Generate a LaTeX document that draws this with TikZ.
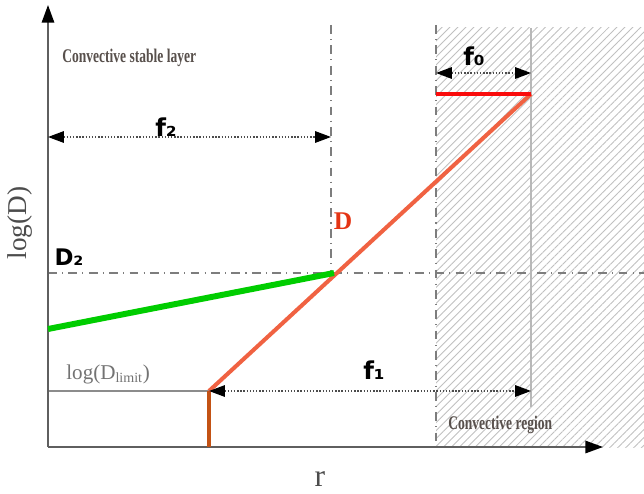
\documentclass[tikz,border=0pt]{standalone}
\usepackage{fontspec}
\setmainfont{Liberation Serif}
\newfontfamily\labfont{DejaVu Sans}
\newfontfamily\condfont{Liberation Serif}[FakeStretch=0.7]
\usetikzlibrary{arrows.meta,patterns.meta}
\definecolor{figgray}{RGB}{125,125,125}
\definecolor{figaxis}{RGB}{95,95,95}
\definecolor{figtext}{RGB}{88,80,76}
\definecolor{figorange}{RGB}{240,98,66}
\definecolor{figred}{RGB}{250,12,12}
\definecolor{figgreen}{RGB}{0,205,0}
\definecolor{figbrown}{RGB}{195,82,20}
\definecolor{fighatch}{RGB}{192,192,192}
\definecolor{figD}{RGB}{228,52,20}
\tikzset{
  faxis/.style={-{Triangle[length=10pt,width=7pt,black]},figaxis,line width=1.1pt},
  fdim/.style={{Triangle[length=9pt,width=6.5pt,black]}-{Triangle[length=9pt,width=6.5pt,black]},
               black!70,line width=0.8pt,densely dotted},
  fref/.style={figgray,line width=0.6pt,dash pattern=on 5pt off 3pt on 0.6pt off 3pt},
  fcurve/.style={line width=#1,line cap=butt},
  flabel/.style={font=\labfont\bfseries\fontsize{14}{16}\selectfont,inner sep=0pt},
  fsmall/.style={font=\labfont\bfseries\fontsize{13}{15}\selectfont,inner sep=0pt},
  fregion/.style={font=\condfont\bfseries\fontsize{11}{13}\selectfont,figtext,inner sep=0pt},
}

\begin{document}
\begin{tikzpicture}[x=0.02cm,y=-0.02cm]
    \useasboundingbox (0,0) rectangle (644,493);
    % points of the profile
    \coordinate (O) at (48,447);
    \coordinate (ytip) at (48,5);
    \coordinate (xtip) at (603,447);
    \coordinate (Dlim) at (209,391);
    \coordinate (Dlimfoot) at (209,447);
    \coordinate (Dlimleft) at (48,391);
    \coordinate (Dtwo) at (334,273);
    \coordinate (Dtwoleft) at (48,329);
    \coordinate (Dzero) at (531,94);
    \coordinate (Dzeroleft) at (436,94);
    % convective region
    \fill[pattern={Lines[angle=45,distance=3.2pt,line width=0.5pt]},pattern color=fighatch]
      (436,28) rectangle (644,447);
    \coordinate (ctop) at (436,25);
    \coordinate (cbot) at (436,442);
    \coordinate (btop) at (531,28);
    \coordinate (bbot) at (531,407);
    \coordinate (ftop) at (331,25);
    \coordinate (fbot) at (331,273);
    \coordinate (hright) at (644,273);
    \draw[fref] (ctop) -- (cbot);
    \draw[fref] (ftop) -- (fbot);
    \draw[fref] (Dtwoleft |- Dtwo) -- (hright);
    \draw[black!28,line width=0.6pt] (btop) -- (bbot);
    \draw[black!45,line width=0.6pt] (Dlimleft) -- (Dlim);
    % axes
    \draw[faxis] (O) -- (ytip);
    \draw[faxis] (O) -- (xtip);
    % profile
    \draw[fcurve=1.8pt,figbrown] (Dlimfoot) -- (Dlim);
    \draw[fcurve=2.3pt,figorange] (Dlim) -- (Dzero);
    \draw[fcurve=3.4pt,figgreen] (Dtwoleft) -- (Dtwo);
    \draw[fcurve=2.8pt,figred] (Dzeroleft) -- (Dzero);
    % widths
    \coordinate (ftwoa) at (48,137);
    \coordinate (ftwob) at (331,137);
    \coordinate (fzeroa) at (436,73);
    \coordinate (fzerob) at (531,73);
    \coordinate (fonea) at (209,391);
    \coordinate (foneb) at (531,391);
    \draw[fdim] (ftwoa) -- (ftwob);
    \draw[fdim] (fzeroa) -- (fzerob);
    \draw[fdim] (fonea) -- (foneb);
    % labels
    \node[flabel] (ftwo) at (166,127) {f₂};
    \node[flabel] (fzero) at (474,56) {f₀};
    \node[flabel] (fone) at (374,370) {f₁};
    \node[fsmall] (Dtwolab) at (69,257) {D₂};
    \node[font=\bfseries\fontsize{14.5}{16}\selectfont,figD,inner sep=0pt] (Dlab) at (343,221) {D};
    \node[fregion,anchor=west] (stable) at (62,58) {Convective stable layer};
    \node[fregion,anchor=west] (region) at (448,425) {Convective region};
    \node[font=\fontsize{15.5}{17}\selectfont,black!70,rotate=90,inner sep=0pt] (ylab) at (20,223) {log(D)};
    \node[font=\fontsize{18}{20}\selectfont,black!70,inner sep=0pt] (xlab) at (320,479) {r};
    \node[font=\fontsize{12}{14}\selectfont,black!55,anchor=base west,inner sep=0pt] (limlab) at (66,379)
      {log(D\textsubscript{limit})};
  \end{tikzpicture}
\end{document}
